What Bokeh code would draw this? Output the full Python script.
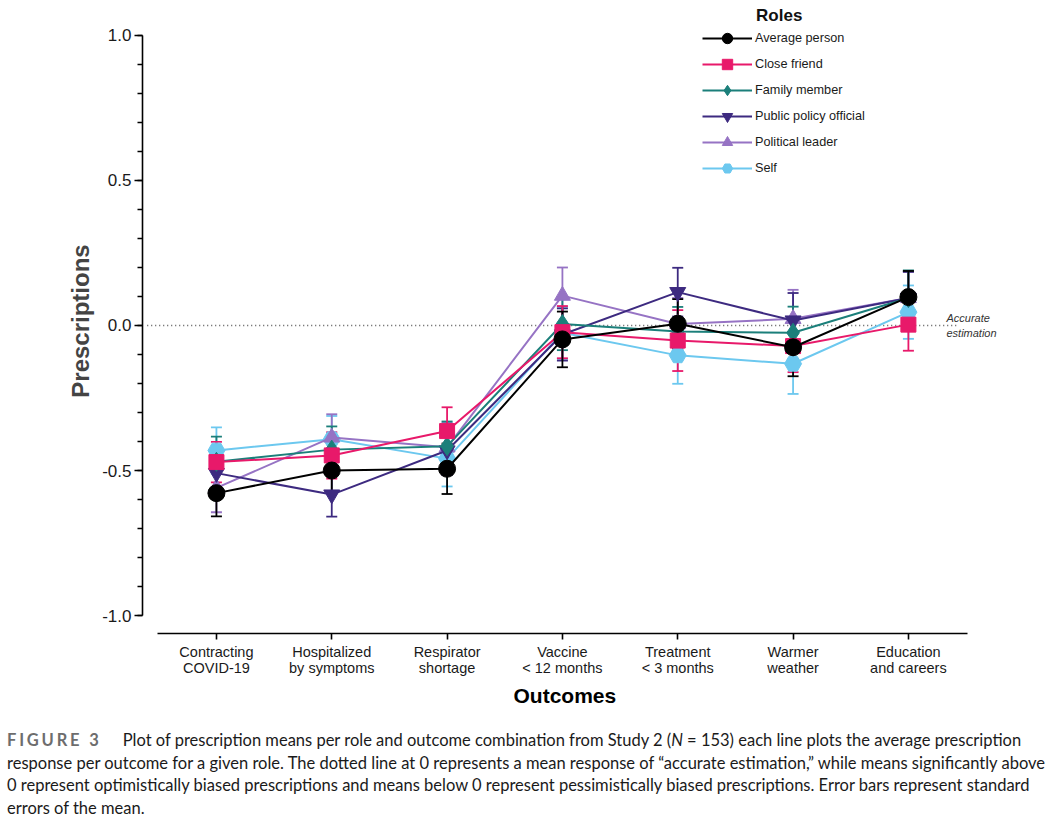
import numpy as np
from bokeh.plotting import figure
from bokeh.models import (Range1d, FixedTicker, NumeralTickFormatter, ColumnDataSource,
                          Whisker, TeeHead, Legend, LegendItem, Label, Div, Title)
from bokeh.layouts import column
from bokeh.embed import file_html
from bokeh.resources import INLINE

# ---------------- data ----------------
outcomes = ["Contracting\nCOVID-19", "Hospitalized\nby symptoms", "Respirator\nshortage",
            "Vaccine\n< 12 months", "Treatment\n< 3 months", "Warmer\nweather",
            "Education\nand careers"]

roles = ["Average person", "Close friend", "Family member",
         "Public policy official", "Political leader", "Self"]

average_person = [-0.578, -0.500, -0.494, -0.048, 0.006, -0.075, 0.098]
average_person_se = [0.080, 0.075, 0.087, 0.096, 0.085, 0.100, 0.090]

close_friend = [-0.471, -0.448, -0.364, -0.023, -0.052, -0.071, 0.003]
close_friend_se = [0.070, 0.080, 0.082, 0.090, 0.105, 0.090, 0.090]

family_member = [-0.470, -0.428, -0.416, 0.005, -0.021, -0.025, 0.095]
family_member_se = [0.087, 0.080, 0.085, 0.090, 0.085, 0.090, 0.095]

public_policy = [-0.509, -0.583, -0.431, -0.031, 0.115, 0.017, 0.095]
public_policy_se = [0.085, 0.076, 0.085, 0.090, 0.084, 0.095, 0.090]

political_leader = [-0.560, -0.386, -0.420, 0.103, 0.005, 0.023, 0.095]
political_leader_se = [0.084, 0.080, 0.085, 0.097, 0.090, 0.100, 0.090]

self_role = [-0.431, -0.392, -0.459, -0.025, -0.103, -0.132, 0.046]
self_role_se = [0.080, 0.080, 0.096, 0.090, 0.098, 0.104, 0.092]

y_ticks = [-1.0, -0.5, 0.0, 0.5, 1.0]

series = [
    ("Average person", average_person, average_person_se, "#000000", "circle", 17),
    ("Close friend", close_friend, close_friend_se, "#E8196A", "square", 15),
    ("Family member", family_member, family_member_se, "#1B7F7A", "diamond", 19),
    ("Public policy official", public_policy, public_policy_se, "#3D2A80", "inverted_triangle", 16),
    ("Political leader", political_leader, political_leader_se, "#9673C4", "triangle", 16),
    ("Self", self_role, self_role_se, "#6CC8EF", "hex", 17),
]

FONT = "Liberation Sans"

p = figure(width=1036, height=713, output_backend="svg", toolbar_location=None,
           x_range=Range1d(-0.641, 7.076), y_range=Range1d(-1.062, 1.093),
           min_border_left=142, min_border_right=4, min_border_top=8, min_border_bottom=80)
p.outline_line_color = None
p.grid.visible = False
p.background_fill_color = "white"

# axes
xs = list(range(len(outcomes)))
p.xaxis.ticker = FixedTicker(ticks=xs)
p.xaxis.major_label_overrides = {i: t for i, t in enumerate(outcomes)}
p.xaxis.bounds = (-0.51, 6.51)
p.xaxis.minor_tick_line_color = None
p.xaxis.major_tick_out = 6
p.xaxis.major_tick_in = 0
p.xaxis.axis_line_width = 1.6
p.xaxis.major_tick_line_width = 1.6
p.xaxis.major_label_text_font = FONT
p.xaxis.major_label_text_font_size = "14.5px"
p.xaxis.major_label_text_line_height = 1.0
p.xaxis.major_label_text_color = "#1a1a1a"
p.xaxis.major_label_standoff = 4

# x axis title, centred on the axis line (which is narrower than the frame)
p.add_layout(Title(text="Outcomes", align="left", offset=371, standoff=6,
                   text_font=FONT, text_font_style="bold", text_font_size="21px",
                   text_color="#000000"), "below")

p.yaxis.ticker = FixedTicker(ticks=y_ticks, minor_ticks=[round(v, 1) for v in np.arange(-1.0, 1.01, 0.1)])
p.yaxis.formatter = NumeralTickFormatter(format="0.0")
p.yaxis.bounds = (-1.0, 1.0)
p.yaxis.major_tick_out = 8
p.yaxis.major_tick_in = 0
p.yaxis.minor_tick_out = 5
p.yaxis.minor_tick_in = 0
p.yaxis.axis_line_width = 1.6
p.yaxis.major_tick_line_width = 1.6
p.yaxis.minor_tick_line_width = 1.4
p.yaxis.major_label_text_font = FONT
p.yaxis.major_label_text_font_size = "17px"
p.yaxis.major_label_text_color = "#1a1a1a"
p.yaxis.major_label_standoff = 3
p.yaxis.axis_label = "Prescriptions"
p.yaxis.axis_label_text_font = FONT
p.yaxis.axis_label_text_font_style = "bold"
p.yaxis.axis_label_text_font_size = "24px"
p.yaxis.axis_label_standoff = 5

# reference dotted line at 0
p.segment(x0=[-0.6], y0=[0.0], x1=[6.42], y1=[0.0], line_color="#555555",
          line_width=1.3, line_dash="1 3")
p.add_layout(Label(x=6.33, y=0.0, text="Accurate\nestimation", text_font=FONT,
                   text_font_style="italic", text_font_size="11px", text_color="#333333",
                   text_baseline="middle", text_align="left"))

# side annotations
p.add_layout(Label(x=-1.18, y=0.64, text="Optimistic estimation", angle=np.pi / 2,
                   text_font=FONT, text_font_style="italic", text_font_size="10px",
                   text_color="#333333", text_align="center", text_baseline="middle"))
p.add_layout(Label(x=-1.18, y=-0.67, text="Pessimistic estimation", angle=np.pi / 2,
                   text_font=FONT, text_font_style="italic", text_font_size="10px",
                   text_color="#333333", text_align="center", text_baseline="middle"))

legend_items = {}
for name, vals, se, color, marker, size in reversed(series):
    v = np.array(vals)
    e = np.array(se)
    src = ColumnDataSource(dict(x=xs, y=v, upper=v + e, lower=v - e))
    wh = Whisker(source=src, base="x", upper="upper", lower="lower", dimension="height",
                 line_color=color, line_width=1.8,
                 upper_head=TeeHead(size=11, line_color=color, line_width=1.8),
                 lower_head=TeeHead(size=11, line_color=color, line_width=1.8))
    p.add_layout(wh)
    ln = p.line("x", "y", source=src, line_color=color, line_width=2.0)
    sc = p.scatter("x", "y", source=src, marker=marker, size=size, fill_color=color,
                   line_color=color)
    legend_items[name] = [ln, sc]

legend = Legend(items=[LegendItem(label=r, renderers=legend_items[r]) for r in roles],
                location=(560, 452), orientation="vertical",
                glyph_width=50, glyph_height=26, label_height=26, spacing=0,
                label_standoff=3, padding=0, margin=0, border_line_color=None,
                background_fill_alpha=0, label_text_font=FONT, label_text_font_size="12.7px",
                label_text_color="#1a1a1a")
p.add_layout(legend)
p.add_layout(Label(x=4.88, y=1.069, text="Roles", text_font=FONT, text_font_style="bold",
                   text_font_size="17px", text_color="#111111", text_align="center",
                   text_baseline="middle"))

caption = Div(width=1036, text=(
    '<div style="font-family:Lato; font-size:16.5px; line-height:22.7px; color:#1a1a1a; '
    'white-space:nowrap; padding-left:2px; margin-top:11px;">'
    '<span style="color:#6d6d6d; font-weight:bold; letter-spacing:2.8px;">FIGURE 3</span>'
    '&nbsp;&nbsp;&nbsp;&nbsp; Plot of prescription means per role and outcome combination from Study 2 '
    '(<i>N</i> = 153) each line plots the average prescription<br>'
    'response per outcome for a given role. The dotted line at 0 represents a mean response of '
    '\u201caccurate estimation,\u201d while means significantly above<br>'
    '0 represent optimistically biased prescriptions and means below 0 represent pessimistically '
    'biased prescriptions. Error bars represent standard<br>'
    'errors of the mean.</div>'))

layout = column(p, caption, spacing=0)
open("out.html", "w").write(file_html(layout, INLINE))
